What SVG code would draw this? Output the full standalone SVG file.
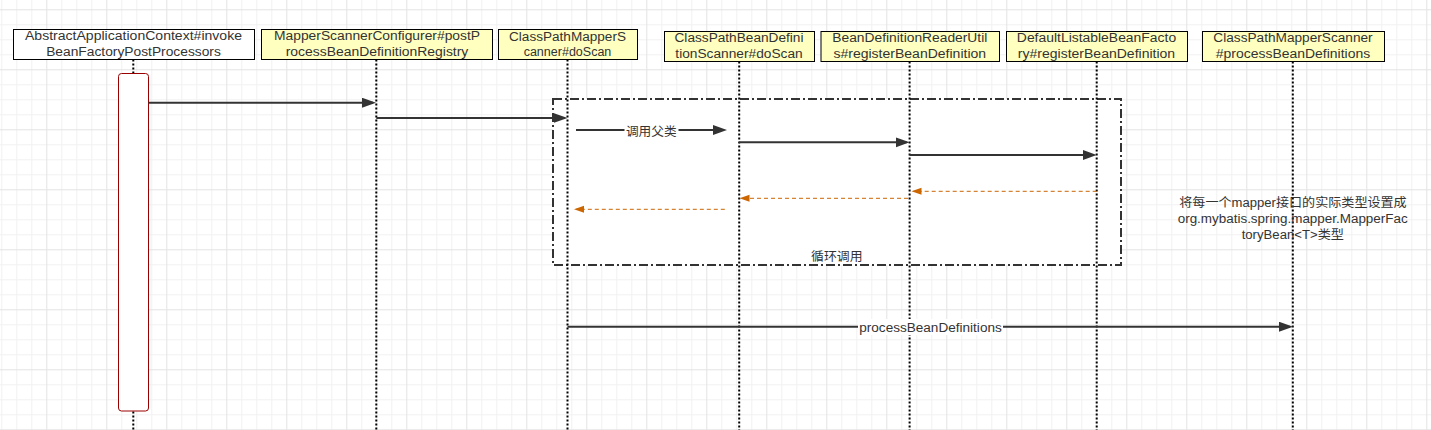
<svg xmlns="http://www.w3.org/2000/svg" width="1431" height="430" viewBox="0 0 1431 430">
<defs>
<pattern id="grid" patternUnits="userSpaceOnUse" x="46.3" y="9.3" width="60" height="60">
<rect width="60" height="60" fill="#ffffff"/>
<path d="M15.5,0V60M30.5,0V60M45.5,0V60M0,15.5H60M0,30.5H60M0,45.5H60" stroke="#f1f1f1" stroke-width="1" fill="none"/>
<path d="M0.5,0V60M0,0.5H60" stroke="#e3e3e3" stroke-width="1" fill="none"/>
</pattern>
<marker id="ah" markerUnits="userSpaceOnUse" markerWidth="16" markerHeight="12" refX="11" refY="5" orient="auto">
<path d="M0,0 L14,5 L0,10 Z" fill="#333333"/>
</marker>
<marker id="ao" markerUnits="userSpaceOnUse" markerWidth="12" markerHeight="9" refX="8" refY="3.5" orient="auto">
<path d="M0,0 L10,3.5 L0,7 Z" fill="#cc6600"/>
</marker>
</defs>
<style>
text{font-family:"Liberation Sans","Noto Sans CJK SC",sans-serif;fill:#333333;}
.hdr{font-size:12.5px;text-anchor:middle;}
.lbl{font-size:12.5px;text-anchor:middle;}
.box{stroke:#000000;stroke-width:1;}
.yel{fill:#ffffc0;}
.wht{fill:#ffffff;}
.life{stroke:#000000;stroke-width:2;stroke-dasharray:2 2;fill:none;}
.msg{stroke:#333333;stroke-width:2;fill:none;marker-end:url(#ah);}
.ret{stroke:#cc6600;stroke-width:1;stroke-dasharray:4 3;fill:none;marker-end:url(#ao);}
.bg{fill:#ffffff;}
</style>
<rect x="0" y="0" width="1431" height="430" fill="url(#grid)"/>

<g id="loop">
<rect x="553" y="99" width="568" height="166" fill="#ffffff" stroke="#333333" stroke-width="2" stroke-dasharray="9 3 2 3"/>
<text class="lbl" x="836.8" y="261" textLength="51.6" lengthAdjust="spacingAndGlyphs">循环调用</text>
</g>

<g id="lifelines">
<line class="life" x1="133.3" y1="59.5" x2="133.3" y2="430"/>
<line class="life" x1="376.3" y1="59.5" x2="376.3" y2="430"/>
<line class="life" x1="567.5" y1="59.5" x2="567.5" y2="430"/>
<line class="life" x1="739.2" y1="61.5" x2="739.2" y2="430"/>
<line class="life" x1="909.6" y1="61.5" x2="909.6" y2="430"/>
<line class="life" x1="1096.7" y1="61.5" x2="1096.7" y2="430"/>
<line class="life" x1="1292.8" y1="61.5" x2="1292.8" y2="430"/>
</g>

<g id="n1">
<rect class="box wht" x="13.5" y="29.5" width="241" height="30"/>
<text class="hdr" x="133.5" y="40" textLength="217" lengthAdjust="spacingAndGlyphs">AbstractApplicationContext#invoke</text>
<text class="hdr" x="133.5" y="56" textLength="174.7" lengthAdjust="spacingAndGlyphs">BeanFactoryPostProcessors</text>
<rect x="118.5" y="73.5" width="30" height="337.5" rx="3" ry="3" fill="#ffffff" stroke="#990000" stroke-width="1"/>
</g>
<g id="n2">
<rect class="box yel" x="261.5" y="29.5" width="231" height="30"/>
<text class="hdr" x="377" y="40" textLength="206" lengthAdjust="spacingAndGlyphs">MapperScannerConfigurer#postP</text>
<text class="hdr" x="377" y="56" textLength="182.7" lengthAdjust="spacingAndGlyphs">rocessBeanDefinitionRegistry</text>
</g>
<g id="n3">
<rect class="box yel" x="498.5" y="29.5" width="139" height="30"/>
<text class="hdr" x="567.5" y="40.5" textLength="117" lengthAdjust="spacingAndGlyphs">ClassPathMapperS</text>
<text class="hdr" x="567.5" y="56" textLength="87.7" lengthAdjust="spacingAndGlyphs">canner#doScan</text>
</g>
<g id="n4">
<rect class="box yel" x="664.5" y="31.5" width="150" height="30"/>
<text class="hdr" x="739" y="42" textLength="129" lengthAdjust="spacingAndGlyphs">ClassPathBeanDefini</text>
<text class="hdr" x="739" y="58" textLength="127.3" lengthAdjust="spacingAndGlyphs">tionScanner#doScan</text>
</g>
<g id="n5">
<rect class="box yel" x="821" y="31.5" width="178.5" height="30"/>
<text class="hdr" x="909.8" y="42" textLength="155" lengthAdjust="spacingAndGlyphs">BeanDefinitionReaderUtil</text>
<text class="hdr" x="909.8" y="58" textLength="152.7" lengthAdjust="spacingAndGlyphs">s#registerBeanDefinition</text>
</g>
<g id="n6">
<rect class="box yel" x="1006.5" y="31.5" width="181" height="30"/>
<text class="hdr" x="1096.5" y="42" textLength="159.3" lengthAdjust="spacingAndGlyphs">DefaultListableBeanFacto</text>
<text class="hdr" x="1096.5" y="58" textLength="157.3" lengthAdjust="spacingAndGlyphs">ry#registerBeanDefinition</text>
</g>
<g id="n7">
<rect class="box yel" x="1202.5" y="31.5" width="182" height="30"/>
<text class="hdr" x="1293" y="42" textLength="159.3" lengthAdjust="spacingAndGlyphs">ClassPathMapperScanner</text>
<text class="hdr" x="1293" y="58" textLength="154.3" lengthAdjust="spacingAndGlyphs">#processBeanDefinitions</text>
</g>

<g id="connectors">
<line class="msg" x1="148.5" y1="102.7" x2="373" y2="102.7"/>
<line class="msg" x1="376.3" y1="118" x2="564.5" y2="118"/>
<line class="msg" x1="576" y1="130" x2="724" y2="130"/>
<rect class="bg" x="624.5" y="123" width="54" height="15"/>
<text class="lbl" x="651.3" y="135.5" textLength="50.7" lengthAdjust="spacingAndGlyphs">调用父类</text>
<line class="msg" x1="739.2" y1="142.3" x2="906.6" y2="142.3"/>
<line class="msg" x1="909.6" y1="155" x2="1093.7" y2="155"/>
<line class="ret" x1="1096.7" y1="191.3" x2="913.5" y2="191.3"/>
<line class="ret" x1="908" y1="198.3" x2="741.5" y2="198.3"/>
<line class="ret" x1="724.8" y1="209.3" x2="576" y2="209.3"/>
<line class="msg" x1="567.5" y1="326.7" x2="1290" y2="326.7"/>
<rect class="bg" x="858" y="319" width="145" height="16"/>
<text class="lbl" x="930.5" y="332" textLength="142.5" lengthAdjust="spacingAndGlyphs">processBeanDefinitions</text>
</g>

<g id="note">
<text class="lbl" x="1293" y="207" textLength="227.4" lengthAdjust="spacingAndGlyphs">将每一个mapper接口的实际类型设置成</text>
<text class="lbl" x="1292.7" y="223" textLength="230" lengthAdjust="spacingAndGlyphs">org.mybatis.spring.mapper.MapperFac</text>
<text class="lbl" x="1292.8" y="239" textLength="102.3" lengthAdjust="spacingAndGlyphs">toryBean&lt;T&gt;类型</text>
</g>
</svg>
